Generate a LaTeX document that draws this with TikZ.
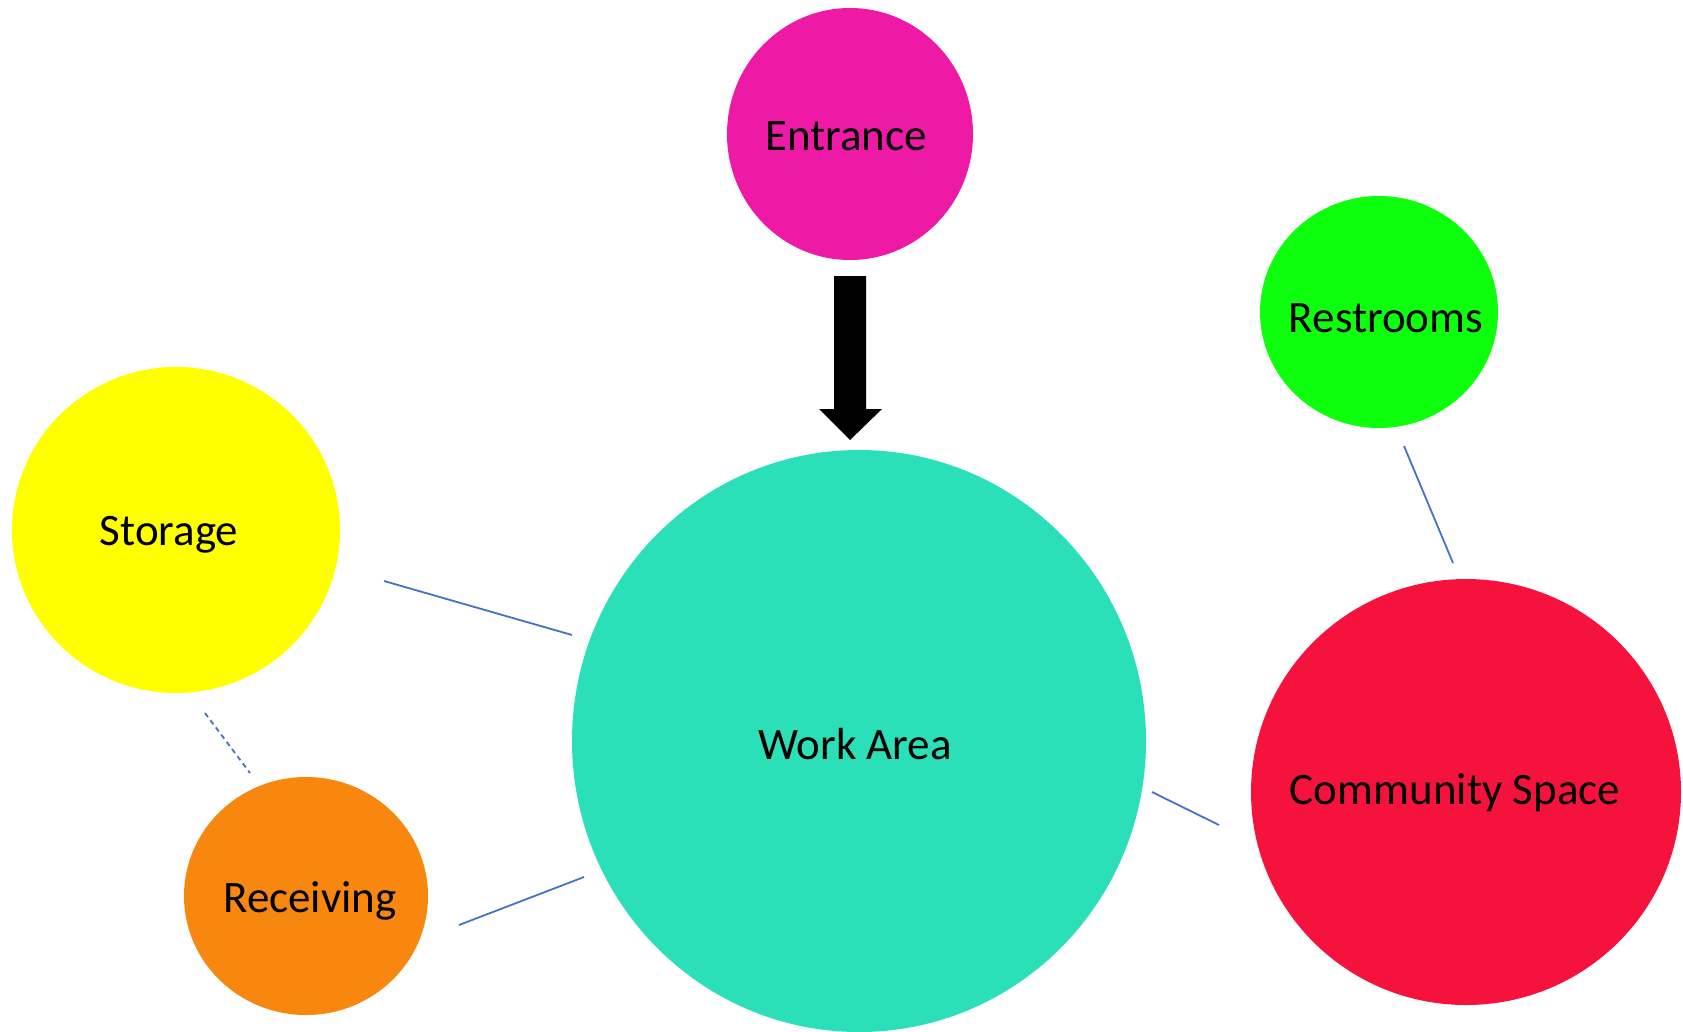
\documentclass[tikz,border=0pt]{standalone}
\usepackage{fontspec}
\setmainfont{Carlito}
\usetikzlibrary{shapes.geometric}
\definecolor{cEntr}{HTML}{EE1AA5}
\definecolor{cRest}{HTML}{0DFF0D}
\definecolor{cStor}{HTML}{FFFF00}
\definecolor{cWork}{HTML}{2BDFB8}
\definecolor{cComm}{HTML}{F5123D}
\definecolor{cRecv}{HTML}{F7870F}
\definecolor{cLine}{HTML}{4472C4}
\tikzset{
  room/.style={ellipse, inner sep=0pt, outer sep=0pt},
  roomtext/.style={text=black, inner sep=0pt, font=\fontsize{45}{54}\selectfont},
  link/.style={draw=cLine, line width=1.8pt},
  dlink/.style={link, dash pattern=on 5pt off 4pt}
}
\begin{document}
\begin{tikzpicture}[x=1pt,y=-1pt]
\useasboundingbox (0,0) rectangle (1683,1031);
\node[room, fill=cEntr, minimum width=246pt, minimum height=252pt] (entr) at (850,134) {};
\node[room, fill=cRest, minimum width=238pt, minimum height=232pt] (rest) at (1379,312) {};
\node[room, fill=cStor, minimum width=328pt, minimum height=326pt] (stor) at (176,530) {};
\node[room, fill=cWork, minimum width=574pt, minimum height=582pt] (work) at (859,741) {};
\node[room, fill=cComm, minimum width=430pt, minimum height=426pt] (comm) at (1466,792) {};
\node[room, fill=cRecv, minimum width=244pt, minimum height=238pt] (recv) at (306,896) {};
% texts
\node[roomtext] (entrT) at (846,136) {Entrance};
\node[roomtext] (restT) at (1386,318) {Restrooms};
\node[roomtext] (storT) at (169,535) {Storage};
\node[roomtext] (workT) at (855,744) {Work Area};
\node[roomtext] (commT) at (1455,793) {Community Space};
\node[roomtext] (recvT) at (310,901) {Receiving};
% connector end points
\coordinate (sw1) at (384,581);
\coordinate (sw2) at (572,635);
\coordinate (rw1) at (459,925);
\coordinate (rw2) at (584,877);
\coordinate (wc1) at (1152,792);
\coordinate (wc2) at (1219,825);
\coordinate (rc1) at (1404,446);
\coordinate (rc2) at (1453,563);
\coordinate (sr1) at (205,713);
\coordinate (sr2) at (250,773);
\draw[link] (sw1) -- (sw2);
\draw[link] (rw1) -- (rw2);
\draw[link] (wc1) -- (wc2);
\draw[link] (rc1) -- (rc2);
\draw[dlink] (sr1) -- (sr2);
% arrow from entrance to work area
\fill[black] (834,276) -- (866,276) -- (866,409) -- (882,409) -- (850,440) -- (819,409) -- (834,409) -- cycle;
\end{tikzpicture}
\end{document}
